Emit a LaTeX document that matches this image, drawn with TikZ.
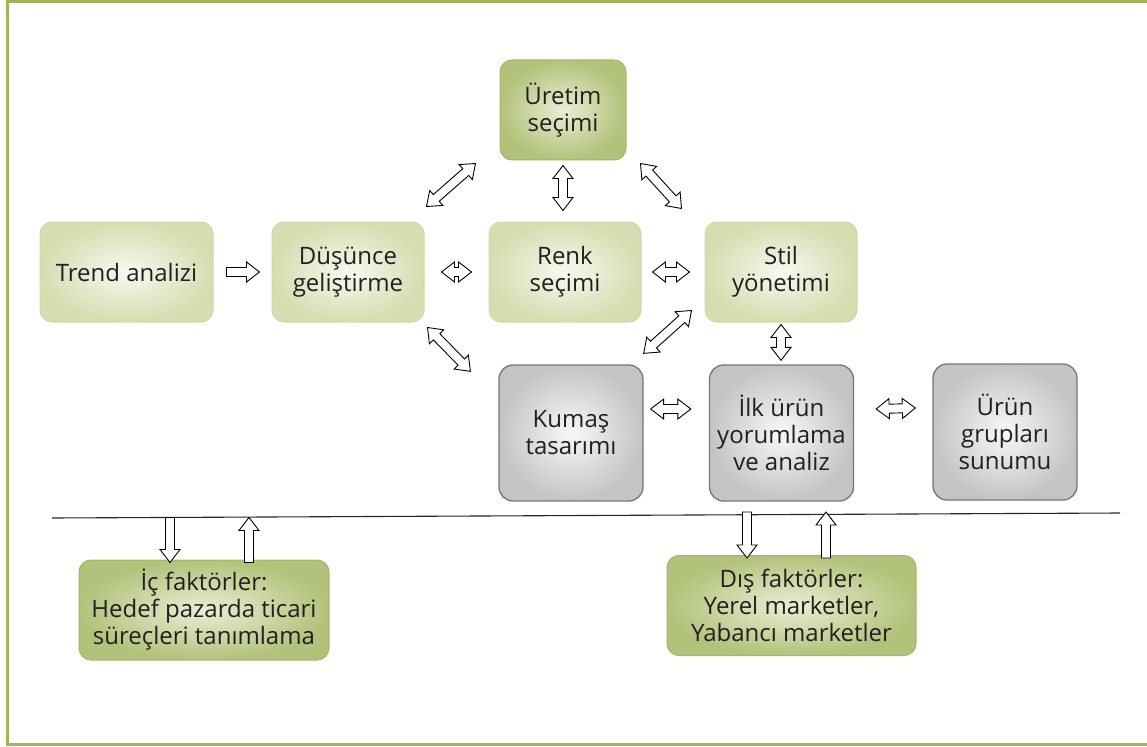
\documentclass[tikz,border=0pt]{standalone}
\usepackage{fontspec}
\setmainfont{Open Sans}
\usepackage{tikz}
\usetikzlibrary{calc}
\usepackage{xcolor}
\definecolor{framegreen}{RGB}{160,180,90}
\definecolor{lgreenout}{RGB}{212,222,176}
\definecolor{lgreenin}{RGB}{247,249,240}
\definecolor{lgreenline}{RGB}{206,217,168}
\definecolor{dgreenout}{RGB}{178,194,122}
\definecolor{dgreenin}{RGB}{234,238,212}
\definecolor{dgreenline}{RGB}{165,183,100}
\definecolor{greyout}{RGB}{196,196,198}
\definecolor{greyin}{RGB}{248,248,248}
\definecolor{greyline}{RGB}{118,118,120}
\definecolor{txt}{RGB}{35,31,32}
\tikzset{
  box/.style={rounded corners=12pt, align=center, text=txt, inner sep=0pt,
    font=\fontsize{24}{27}\selectfont, shading=radial},
  lbox/.style={box, draw=lgreenline, line width=1pt, inner color=lgreenin,
    outer color=lgreenout, minimum width=152pt, minimum height=100pt},
  dbox/.style={box, draw=dgreenline, line width=1pt, inner color=dgreenin,
    outer color=dgreenout, minimum height=100pt},
  gbox/.style={box, rounded corners=14pt, draw=greyline, line width=1.3pt,
    inner color=greyin, outer color=greyout, minimum width=144pt, minimum height=136pt},
  % hollow block arrows
  blk/.style={draw=black, fill=white, line width=0.9pt, line join=miter},
  sarr/.style={blk, to path={
    let \p1=(\tikztostart), \p2=(\tikztotarget),
        \n1={atan2(\y2-\y1,\x2-\x1)}, \n2={\n1+90},
        \n3={veclen(\x2-\x1,\y2-\y1)-13} in
    ($(\p1)+(\n2:4.5pt)$) -- ($(\p1)+(\n1:\n3)+(\n2:4.5pt)$)
    -- ($(\p1)+(\n1:\n3)+(\n2:10pt)$) -- (\p2)
    -- ($(\p1)+(\n1:\n3)+(\n2:-10pt)$) -- ($(\p1)+(\n1:\n3)+(\n2:-4.5pt)$)
    -- ($(\p1)+(\n2:-4.5pt)$) -- cycle}},
  darr/.style={blk, to path={
    let \p1=(\tikztostart), \p2=(\tikztotarget),
        \n1={atan2(\y2-\y1,\x2-\x1)}, \n2={\n1+90},
        \n3={veclen(\x2-\x1,\y2-\y1)-13} in
    (\p1) -- ($(\p1)+(\n1:13pt)+(\n2:10pt)$) -- ($(\p1)+(\n1:13pt)+(\n2:4.5pt)$)
    -- ($(\p1)+(\n1:\n3)+(\n2:4.5pt)$) -- ($(\p1)+(\n1:\n3)+(\n2:10pt)$)
    -- (\p2) -- ($(\p1)+(\n1:\n3)+(\n2:-10pt)$) -- ($(\p1)+(\n1:\n3)+(\n2:-4.5pt)$)
    -- ($(\p1)+(\n1:13pt)+(\n2:-4.5pt)$) -- ($(\p1)+(\n1:13pt)+(\n2:-10pt)$) -- cycle}}
}
\begin{document}
\begin{tikzpicture}[x=1pt,y=-1pt]
\useasboundingbox (0,0) rectangle (1147,746);
% Frame
\draw[framegreen, line width=3pt] (1147,2) -- (7,2) -- (7,744) -- (1147,744);

% Top row
\node[dbox, minimum width=126pt] (uretim) at (563,110) {Üretim\\seçimi};
\node[lbox, minimum width=173pt] (trend) at (126.5,272) {Trend analizi};
\node[lbox] (dus) at (348,272) {Düşünce\\geliştirme};
\node[lbox] (renk) at (565,272) {Renk\\seçimi};
\node[lbox] (stil) at (781,272) {Stil\\yönetimi};

% Grey row
\node[gbox] (kumas) at (571,433) {Kumaş\\tasarımı};
\node[gbox] (ilk) at (781.5,433) {İlk ürün\\yorumlama\\ve analiz};
\node[gbox] (urun) at (1005,432) {Ürün\\grupları\\sunumu};

% Factors
\node[dbox, minimum width=250pt] (ic) at (204,610) {İç faktörler:\\Hedef pazarda ticari\\süreçleri tanımlama};
\node[dbox, minimum width=249pt] (dis) at (791.5,605.5) {Dış faktörler:\\Yerel marketler,\\Yabancı marketler};

% Divider
\coordinate (lineL) at (52,518);
\coordinate (lineR) at (1120,513);
\draw[line width=1.1pt, black!85] (lineL) -- (lineR);

% Arrows
\draw[sarr] ([xshift=13pt]trend.east) to ([xshift=-12pt]dus.west);
\draw[darr] ([xshift=17pt]dus.east) to ([xshift=-17pt]renk.west);
\draw[darr] ([xshift=11pt]renk.east) to ([xshift=-15pt]stil.west);
\draw[darr] ([xshift=2pt,yshift=15pt]dus.north east) to ([xshift=-24pt,yshift=-3pt]uretim.south west);
\draw[darr] ([yshift=-5pt]uretim.south) to ([yshift=11pt]uretim.south |- renk.north);
\draw[darr] ([xshift=14pt,yshift=-3pt]uretim.south east) to ([xshift=-23pt,yshift=13pt]stil.north west);
\draw[darr] ([xshift=3pt,yshift=-5pt]dus.south east) to ([xshift=-28pt,yshift=-7pt]kumas.north west);
\draw[darr] ([xshift=-13pt,yshift=12pt]stil.south west) to ([yshift=11pt]kumas.north east);
\draw[darr] ([yshift=-2pt]stil.south) to ([yshift=4pt]stil.south |- ilk.north);
\draw[darr] ([xshift=7pt,yshift=24pt]kumas.east) to ([xshift=-18pt,yshift=24pt]ilk.west);
\draw[darr] ([xshift=22pt,yshift=24pt]ilk.east) to ([xshift=-17pt,yshift=24pt]urun.west);

% To and from the factors
\draw[sarr] ($(ic.north)+(-34,-42)$) to ($(ic.north)+(-34,3)$);
\draw[sarr] ($(ic.north)+(45,3)$) to ($(ic.north)+(45,-42)$);
\draw[sarr] ($(dis.north)+(-44.5,-43)$) to ($(dis.north)+(-44.5,3)$);
\draw[sarr] ($(dis.north)+(34.5,3)$) to ($(dis.north)+(34.5,-43)$);
\end{tikzpicture}
\end{document}
